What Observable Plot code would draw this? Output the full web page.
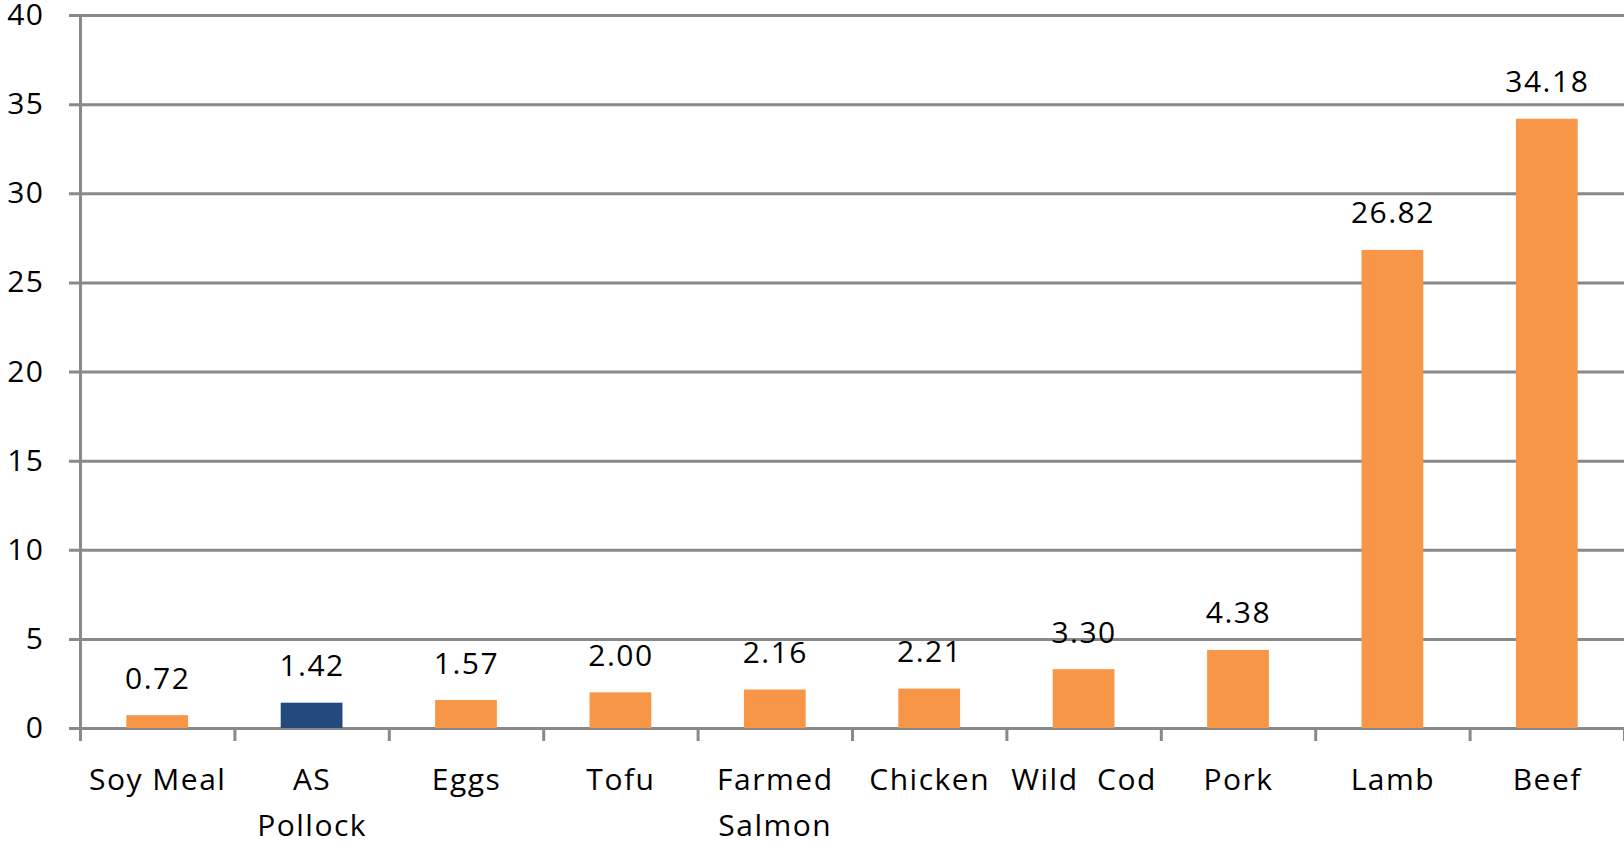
<!DOCTYPE html>
<html>
<head>
<meta charset="utf-8">
<script src="https://cdn.jsdelivr.net/npm/d3@7"></script>
<script src="https://cdn.jsdelivr.net/npm/@observablehq/plot@0.6"></script>
<style>
  html, body { margin: 0; padding: 0; background: #fff; }
  #chart svg { display: block; }
  #chart text { white-space: pre; letter-spacing: 1.5px; }
</style>
</head>
<body>
<div id="chart"></div>
<script>
// Footprint per food (value labels shown above each bar)
const foods = ["Soy Meal", "AS\nPollock", "Eggs", "Tofu", "Farmed\nSalmon", "Chicken", "Wild  Cod", "Pork", "Lamb", "Beef"];
const values = [0.72, 1.42, 1.57, 2.00, 2.16, 2.21, 3.30, 4.38, 26.82, 34.18];
const highlight = "AS\nPollock";
const yTicks = [0, 5, 10, 15, 20, 25, 30, 35, 40];

const orange = "#F79646";
const navy = "#234A7E";
const gridColor = "#898989";
const font = "'Open Sans', 'Noto Sans', sans-serif";
const fs = 30;

const rows = foods.map((name, i) => ({name, i, value: values[i]}));

const chart = Plot.plot({
  width: 1624,
  height: 843,
  marginLeft: 80,
  marginRight: 0,
  marginTop: 15,
  marginBottom: 115,
  style: {fontFamily: font, fontSize: `${fs}px`, color: "#000", background: "#fff"},
  x: {domain: [0, foods.length], axis: null},
  y: {domain: [0, 40], axis: null},
  marks: [
    // horizontal gridlines, extending left past the axis as tick marks
    Plot.ruleY(yTicks, {stroke: gridColor, strokeWidth: 3, insetLeft: -11}),
    // vertical axis line
    Plot.ruleX([0], {stroke: gridColor, strokeWidth: 3}),
    // category boundary ticks below the baseline
    Plot.axisX({
      ticks: d3.range(foods.length + 1),
      tickSize: 13,
      tickFormat: () => "",
      stroke: gridColor,
      strokeWidth: 3,
      strokeOpacity: 1
    }),
    Plot.axisY({
      ticks: yTicks,
      tickSize: 0,
      tickPadding: 36,
      fontSize: fs,
      fill: "#000",
      label: null
    }),
    Plot.rectY(rows, {
      x1: (d) => d.i + 0.3,
      x2: (d) => d.i + 0.7,
      y1: 0,
      y2: "value",
      fill: (d) => (d.name === highlight ? navy : orange)
    }),
    Plot.text(rows, {
      x: (d) => d.i + 0.5,
      y: "value",
      text: (d) => d.value.toFixed(2),
      dy: -27,
      lineAnchor: "bottom",
      fontSize: fs,
      fill: "#000"
    }),
    Plot.text(rows, {
      x: (d) => d.i + 0.5,
      y: 0,
      text: "name",
      dy: 28,
      lineAnchor: "top",
      lineHeight: 1.55,
      fontSize: fs,
      fill: "#000"
    })
  ]
});

document.getElementById("chart").append(chart);
</script>
</body>
</html>
